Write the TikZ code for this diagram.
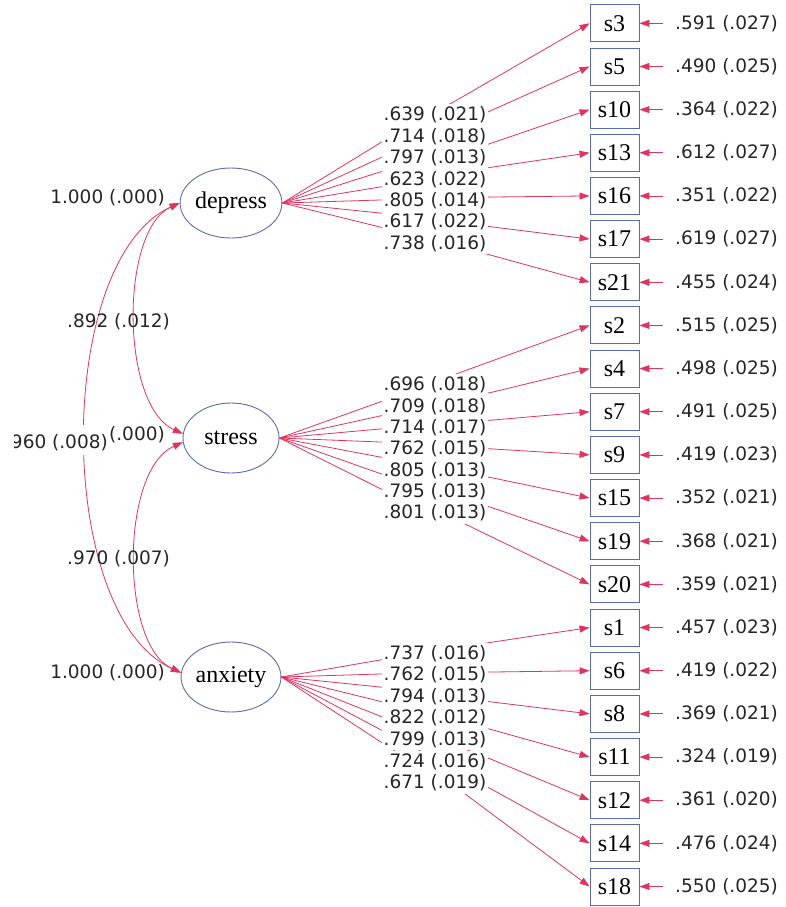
\documentclass[tikz,border=0pt]{standalone}
\usepackage{fontspec}
\setmainfont{Liberation Serif}
\newfontfamily\numfont{DejaVu Sans}
\usetikzlibrary{arrows.meta,shapes.geometric}
\definecolor{pathred}{HTML}{DE3560}
\definecolor{nodeblue}{HTML}{5C6BAE}
\definecolor{numtext}{HTML}{262626}

\begin{document}
\begin{tikzpicture}[x=1pt,y=-1pt,
  latent/.style={ellipse,draw=nodeblue,line width=0.9pt,minimum width=96pt,
    minimum height=70pt,inner sep=0pt,font=\fontsize{24}{24}\selectfont},
  indicator/.style={rectangle,draw=nodeblue,line width=0.9pt,minimum width=49pt,
    minimum height=37pt,inner sep=0pt,font=\fontsize{24}{24}\selectfont},
  est/.style={font=\numfont\fontsize{18.5}{18.5}\selectfont,inner sep=0pt,text=numtext},
  loadlab/.style={est,fill=white,inner xsep=1.5pt,inner ysep=2.5pt},
  tip/.tip={Triangle[length=10pt,width=7pt]},
  regline/.style={draw=pathred,line width=0.8pt,-tip},
  covline/.style={draw=pathred,line width=0.8pt,tip-tip},
]
\useasboundingbox (0,0) rectangle (785,907);

% latent factors
\node[latent] (depress) at (231,203) {depress};
\node[latent] (stress)  at (231,438) {stress};
\node[latent] (anxiety) at (231,677) {anxiety};

% observed items with residual variances
\foreach \v/\r [count=\i from 0] in {
  s3/{.591 (.027)}, s5/{.490 (.025)}, s10/{.364 (.022)}, s13/{.612 (.027)},
  s16/{.351 (.022)}, s17/{.619 (.027)}, s21/{.455 (.024)},
  s2/{.515 (.025)}, s4/{.498 (.025)}, s7/{.491 (.025)}, s9/{.419 (.023)},
  s15/{.352 (.021)}, s19/{.368 (.021)}, s20/{.359 (.021)},
  s1/{.457 (.023)}, s6/{.419 (.022)}, s8/{.369 (.021)}, s11/{.324 (.019)},
  s12/{.361 (.020)}, s14/{.476 (.024)}, s18/{.550 (.025)}} {
  \node[indicator] (\v) at (614.5,{23.3+43.16*\i}) {\v};
  \node[est,anchor=west] (r\v) at (675,{23.3+43.16*\i}) {\r};
  \draw[regline] ([xshift=-12pt]r\v.west) -- (\v.east);
}

% factor loadings: depress
\foreach \b/\ax/\ay/\bx/\by in {
  s3/380/143/457/100, s5/380/158/470/120, s10/380/172/483/146,
  s13/380/187/493/167, s16/380/200/493/197, s17/380/213/493/227,
  s21/380/227/483/253}
  \draw[regline] (depress.east) -- (\ax,\ay) -- (\bx,\by) -- (\b.west);

% factor loadings: stress
\foreach \b/\ax/\ay/\bx/\by in {
  s2/380/402/467/370, s4/380/416/493/392, s7/380/429/493/420,
  s9/380/442/493/449, s15/380/457/493/478, s19/390/477/493/508,
  s20/397/497/463/523}
  \draw[regline] (stress.east) -- (\ax,\ay) -- (\bx,\by) -- (\b.west);

% factor loadings: anxiety
\foreach \b/\ax/\ay/\bx/\by in {
  s1/380/660/493/642, s6/380/674/493/672, s8/380/687/492/702,
  s11/387/703/493/730, s12/390/720/493/760, s14/400/740/493/790,
  s18/413/763/453/785}
  \draw[regline] (anxiety.east) -- (\ax,\ay) -- (\bx,\by) -- (\b.west);

% loading estimates
\foreach \t [count=\i from 0] in {.639 (.021),.714 (.018),.797 (.013),.623 (.022),
  .805 (.014),.617 (.022),.738 (.016)}
  \node[loadlab] (ld\i) at (435,{115+21.4*\i}) {\t};
\foreach \t [count=\i from 0] in {.696 (.018),.709 (.018),.714 (.017),.762 (.015),
  .805 (.013),.795 (.013),.801 (.013)}
  \node[loadlab] (ls\i) at (435,{385+21.3*\i}) {\t};
\foreach \t [count=\i from 0] in {.737 (.016),.762 (.015),.794 (.013),.822 (.012),
  .799 (.013),.724 (.016),.671 (.019)}
  \node[loadlab] (la\i) at (435,{653.3+21.6*\i}) {\t};

% factor covariances
\draw[covline] (depress.west) .. controls (120,230) and (120,405) .. (stress.175);
\draw[covline] (stress.185) .. controls (120,470) and (120,645) .. (anxiety.175);
\draw[covline] (depress.west) .. controls (54,260) and (54,615) .. (anxiety.175);

\node[est] (c1) at (118.5,322) {.892 (.012)};
\node[est] (c2) at (118.5,559) {.970 (.007)};

% factor variances
\node[est,anchor=east] (vdep) at (165,198) {1.000 (.000)};
\node[est,anchor=east] (vstr) at (165,435) {1.000 (.000)};
\node[est,anchor=east] (vanx) at (165,673) {1.000 (.000)};

% the .960 estimate sits over the stress variance and is cut at the left
\begin{scope}
  \clip (14,415) rectangle (130,470);
  \node[est,anchor=east,fill=white,inner xsep=2.5pt,inner ysep=2pt,
    text height=22pt,text depth=4pt] (c3) at (110.5,439.8) {.960 (.008)};
\end{scope}
\end{tikzpicture}
\end{document}
